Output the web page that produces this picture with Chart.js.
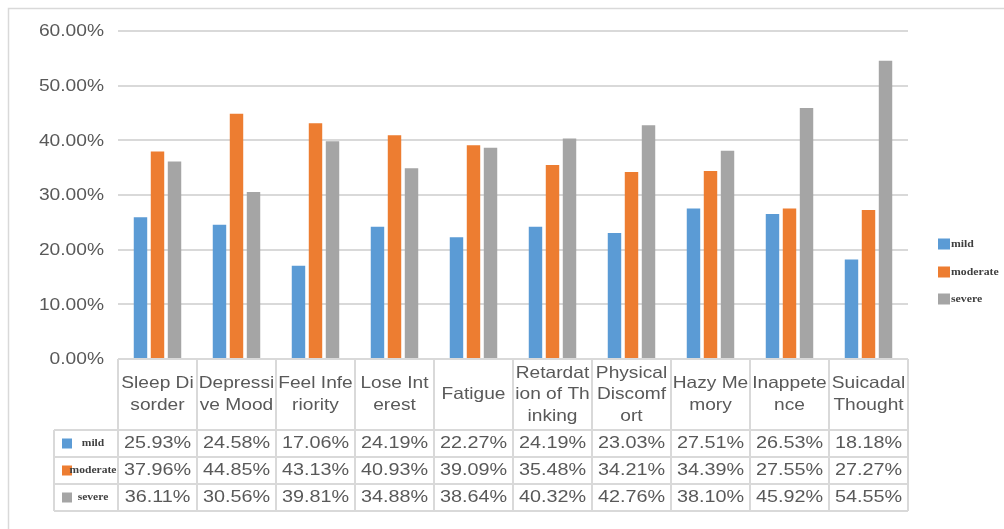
<!DOCTYPE html>
<html>
<head>
<meta charset="utf-8">
<script src="https://cdn.jsdelivr.net/npm/chart.js@4/dist/chart.umd.min.js"></script>
<style>
  html, body { margin: 0; padding: 0; background: #fff; }
  #wrap { width: 1004px; height: 529px; position: relative; }
</style>
</head>
<body>
<div id="wrap"><canvas id="c"></canvas></div>
<script>
// Symptom categories and their wrapped header lines in the data table
const categories = ["Sleep Disorder", "Depressive Mood", "Feel Inferiority", "Lose Interest", "Fatigue",
  "Retardation of Thinking", "Physical Discomfort", "Hazy Memory", "Inappetence", "Suicadal Thought"];
const headerLines = [["Sleep Di", "sorder"], ["Depressi", "ve Mood"], ["Feel Infe", "riority"], ["Lose Int", "erest"],
  ["Fatigue"], ["Retardat", "ion of Th", "inking"], ["Physical", "Discomf", "ort"], ["Hazy Me", "mory"],
  ["Inappete", "nce"], ["Suicadal", "Thought"]];

// Share of respondents (%) per severity level
const seriesNames = ["mild", "moderate", "severe"];
const mild = [25.93, 24.58, 17.06, 24.19, 22.27, 24.19, 23.03, 27.51, 26.53, 18.18];
const moderate = [37.96, 44.85, 43.13, 40.93, 39.09, 35.48, 34.21, 34.39, 27.55, 27.27];
const severe = [36.11, 30.56, 39.81, 34.88, 38.64, 40.32, 42.76, 38.10, 45.92, 54.55];
const seriesColors = ["#5B9BD5", "#ED7D31", "#A5A5A5"];

// Value axis ticks (%)
const yTicks = [0, 10, 20, 30, 40, 50, 60];

const TEXT = "#595959";
const LINE = "#d9d9d9";
const SANS = "'Liberation Sans', Arial, sans-serif";
const SERIF = "'Liberation Serif', 'Times New Roman', serif";
const STRETCH = 1.2;

function stretchedText(ctx, str, x, y, align, font, color, sx) {
  ctx.save();
  ctx.font = font;
  ctx.fillStyle = color;
  ctx.textAlign = align;
  ctx.textBaseline = "middle";
  ctx.translate(x, y);
  ctx.scale(sx, 1);
  ctx.fillText(str, 0, 0);
  ctx.restore();
}

function fmt(v) { return v.toFixed(2) + "%"; }

// Outer frame
const framePlugin = {
  id: "frame",
  beforeDraw(chart) {
    const ctx = chart.ctx;
    ctx.save();
    ctx.strokeStyle = LINE;
    ctx.lineWidth = 1.5;
    ctx.strokeRect(8.5, 8.5, chart.width + 10, chart.height + 10);
    ctx.restore();
  }
};

// Value axis labels, data table under the categories and the side legend
const tablePlugin = {
  id: "dataTable",
  afterDraw(chart) {
    const ctx = chart.ctx;
    const area = chart.chartArea;
    const xs = chart.scales.x;
    const ys = chart.scales.y;
    const n = categories.length;
    const colW = area.width / n;
    const keyLeft = 54;
    const headTop = area.bottom;
    const headBottom = headTop + 71;
    const rowH = 27;
    const tableBottom = headBottom + rowH * 3;

    // y tick labels
    yTicks.forEach(t => {
      stretchedText(ctx, fmt(t), 104, ys.getPixelForValue(t) + 1, "right", "16px " + SANS, TEXT, STRETCH);
    });

    // grid of the table
    ctx.save();
    ctx.strokeStyle = LINE;
    ctx.lineWidth = 2;
    ctx.beginPath();
    for (let r = 0; r <= 3; r++) {
      const y = headBottom + r * rowH;
      ctx.moveTo(keyLeft, y); ctx.lineTo(area.right, y);
    }
    for (let i = 0; i <= n; i++) {
      const x = area.left + i * colW;
      ctx.moveTo(x, headTop); ctx.lineTo(x, tableBottom);
    }
    ctx.moveTo(keyLeft, headBottom); ctx.lineTo(keyLeft, tableBottom);
    ctx.stroke();
    ctx.restore();

    // header (category names)
    const lh = 21.5;
    categories.forEach((c, i) => {
      const cx = xs.getPixelForValue(i);
      const lines = headerLines[i];
      const cy = (headTop + headBottom) / 2;
      lines.forEach((ln, k) => {
        const y = cy + (k - (lines.length - 1) / 2) * lh;
        stretchedText(ctx, ln, cx, y, "center", "16.5px " + SANS, TEXT, 1.16);
      });
    });

    // value rows
    const series = [mild, moderate, severe];
    series.forEach((vals, r) => {
      const cy = headBottom + r * rowH + rowH / 2;
      vals.forEach((v, i) => {
        stretchedText(ctx, fmt(v), xs.getPixelForValue(i), cy, "center", "16.5px " + SANS, TEXT, 1.2);
      });
      // legend key in the first column
      ctx.fillStyle = seriesColors[r];
      ctx.fillRect(62, cy - 5, 10, 10);
      stretchedText(ctx, seriesNames[r], 93, cy, "center", "bold 11px " + SERIF, "#3f3f3f", 1.05);
    });

    // side legend
    const legY = [244, 272, 299];
    seriesNames.forEach((name, r) => {
      ctx.fillStyle = seriesColors[r];
      ctx.fillRect(938, legY[r] - 5.5, 12, 11);
      stretchedText(ctx, name, 951, legY[r], "left", "bold 11px " + SERIF, "#3f3f3f", 1.07);
    });
  }
};

new Chart(document.getElementById("c"), {
  type: "bar",
  data: {
    labels: categories,
    datasets: [mild, moderate, severe].map((d, i) => ({
      label: seriesNames[i],
      data: d,
      backgroundColor: seriesColors[i],
      categoryPercentage: 0.646,
      barPercentage: 0.79
    }))
  },
  options: {
    responsive: true,
    maintainAspectRatio: false,
    animation: false,
    layout: { padding: { top: 31, bottom: 170, left: 118, right: 96 } },
    plugins: { legend: { display: false }, tooltip: { enabled: false } },
    scales: {
      x: {
        ticks: { display: false },
        grid: { display: false, drawTicks: false },
        border: { display: false }
      },
      y: {
        min: 0,
        max: 60,
        ticks: { display: false, stepSize: 10 },
        grid: { color: LINE, lineWidth: 2, drawTicks: false },
        border: { display: false }
      }
    }
  },
  plugins: [framePlugin, tablePlugin]
});
</script>
</body>
</html>
